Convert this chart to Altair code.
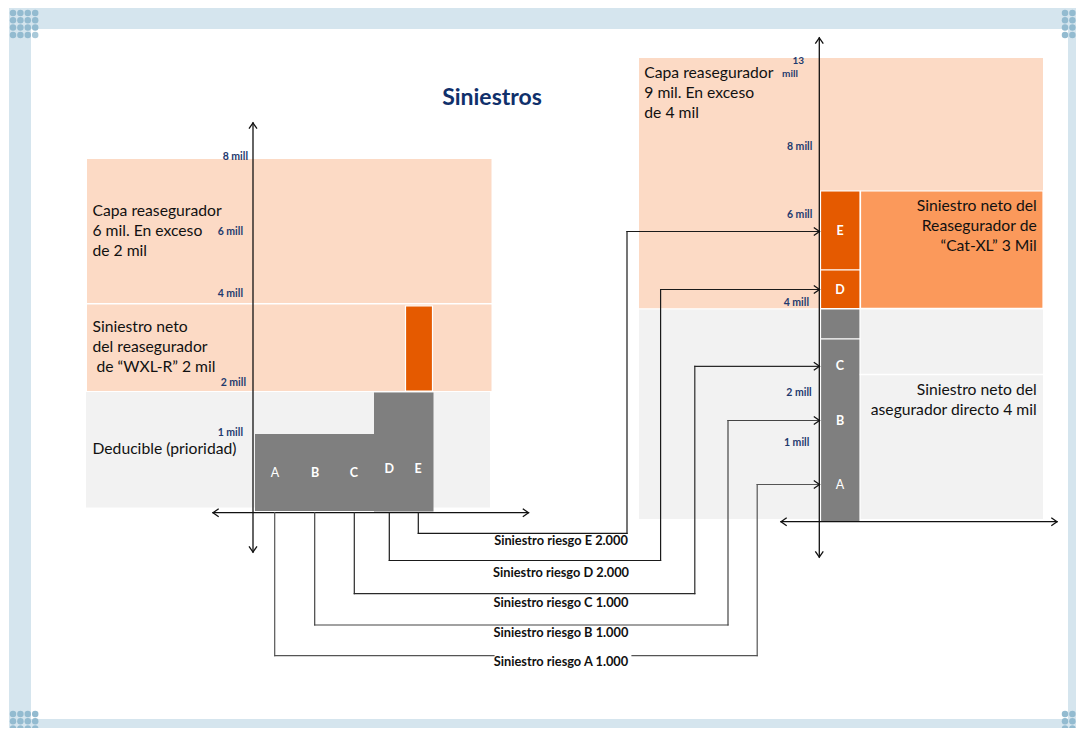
import altair as alt
import pandas as pd

# ---------------- text content / values ----------------
title = "Siniestros"
risk_letters = ["A", "B", "C", "D", "E"]
risk_losses = ["1.000", "1.000", "1.000", "2.000", "2.000"]
left_ticks = ["8 mill", "6 mill", "4 mill", "2 mill", "1 mill"]
right_ticks = ["8 mill", "6 mill", "4 mill", "2 mill", "1 mill"]
right_top_tick = ["13", "mill"]
left_layer_text = ["Capa reasegurador", "6 mil. En exceso", "de 2 mil"]
left_net_text = ["Siniestro neto", "del reasegurador", "de \u201cWXL-R\u201d 2 mil"]
left_ded_text = ["Deducible (prioridad)"]
right_layer_text = ["Capa reasegurador", "9 mil. En exceso", "de 4 mil"]
right_cat_text = ["Siniestro neto del", "Reasegurador de", "\u201cCat-XL\u201d 3 Mil"]
right_direct_text = ["Siniestro neto del", "asegurador directo 4 mil"]

# ---------------- styles ----------------
PEACH = "#fcdac5"
LGRAY = "#f2f2f2"
BGRAY = "#7f7f7f"
ORANGE = "#e55a00"
LORANGE = "#fb995b"
FRAME = "#d5e5ee"
DOT = "#93bbd0"
NAVY = "#1f3a6e"
TITLE = "#10306b"
FONT = "Lato"

# ---------------- diagram layout (page pixels) ----------------
bg_rects = [
    (9, 1084, 7, 29, FRAME), (9, 1084, 719, 736, FRAME),
    (9, 31, 7, 736, FRAME), (1068, 1084, 7, 736, FRAME),
    (87, 491.5, 159, 303, PEACH), (87, 491.5, 304.5, 391, PEACH),
    (86, 490, 392, 507.5, LGRAY),
    (639, 1043, 58, 308.3, PEACH), (639, 1043, 309.5, 519, LGRAY),
    (255, 374, 434, 511, BGRAY), (374, 433.5, 392.5, 511.5, BGRAY),
]
stroked_rects = [
    (860.5, 1043, 191, 308.3, LORANGE),
    (405.5, 432.5, 306, 391, ORANGE),
    (820.5, 860, 191, 270, ORANGE),
    (820.5, 860, 270, 308.5, ORANGE),
    (820.5, 860, 309, 339, BGRAY),
    (820.5, 860, 339, 522, BGRAY),
]

dots = []
for cx0, cy0 in [(13, 13), (1065, 13), (13, 714), (1065, 714)]:
    for i in range(4):
        for j in range(4):
            light = (i == 3 and j == 3 and cy0 < 100)
            dots.append((cx0 + 7.4 * i, cy0 + 7.3 * j, "#a9c9d9" if light else DOT))

AX = "#111111"
segments = [
    # white separator in right gray zone
    (860.5, 1043, 374.5, 374.5, "#ffffff", 1.5),
    # left axes
    (253, 253, 123, 552, AX, 1.3), (213, 528.5, 512.7, 512.7, AX, 1.3),
    # right axes
    (819.3, 819.3, 38, 557, AX, 1.3), (781, 1057, 521.7, 521.7, AX, 1.3),
]
connectors = {
    "E": [(418.3, 512.7), (418.3, 533.4), (627, 533.4), (627, 231.5), (819, 231.5)],
    "D": [(389.3, 512.7), (389.3, 560.5), (660.6, 560.5), (660.6, 289.5), (819, 289.5)],
    "C": [(354.3, 512.7), (354.3, 593.7), (694.8, 593.7), (694.8, 366.3), (819, 366.3)],
    "B": [(314.7, 512.7), (314.7, 625), (728, 625), (728, 420.5), (819, 420.5)],
    "A": [(274.7, 512.7), (274.7, 655.6), (757.2, 655.6), (757.2, 484.5), (819, 484.5)],
}
conn_color = {"A": "#555555", "B": "#444444", "C": "#2a2a2a", "D": "#1a1a1a", "E": "#1a1a1a"}
for k, pts in connectors.items():
    for (xa, ya), (xb, yb) in zip(pts[:-1], pts[1:]):
        if k == "A" and ya == yb and xa < 500 < xb:
            segments.append((xa, 494, ya, yb, conn_color[k], 1.2))
            segments.append((632, xb, ya, yb, conn_color[k], 1.2))
        else:
            segments.append((xa, xb, ya, yb, conn_color[k], 1.2))

R = "M-1,-0.7L0,0L-1,0.7"
L = "M1,-0.7L0,0L1,0.7"
U = "M-0.7,1L0,0L0.7,1"
D = "M-0.7,-1L0,0L0.7,-1"
arrows = [
    (253, 123, U), (253, 552, D), (213, 512.7, L), (528.5, 512.7, R),
    (819.3, 38, U), (819.3, 557, D), (781, 521.7, L), (1057, 521.7, R),
] + [(819.5, pts[-1][1], R) for pts in connectors.values()]

# text positions
title_pos = (492, 98)
left_tick_pos = [(248, 157), (243, 232), (243, 294), (246, 383), (243, 433)]
right_tick_pos = [(812.3, 146.7), (812.3, 215.3), (809, 303.3), (811.7, 393.3), (809.3, 442.7)]
right_top_pos = [(798.3, 60.7), (790, 73.7)]
left_letter_pos = [(275, 473), (315, 473), (354, 473), (389.3, 469), (418, 469)]
right_letter_pos = [(840, 485), (840, 421), (840, 366), (840, 290), (840, 231)]
risk_label_y = [662, 633, 603, 572.5, 540.5]

# ---------------- chart ----------------
XS = alt.Scale(domain=[8, 1076], zero=False, nice=False)
YS = alt.Scale(domain=[8, 728], zero=False, nice=False, reverse=True)


def enc_xy():
    return dict(x=alt.X("x:Q", scale=XS, axis=None), y=alt.Y("y:Q", scale=YS, axis=None))


def rect_layer(rows, **mark):
    df = pd.DataFrame(rows, columns=["x", "x2", "y", "y2", "fill"])
    return alt.Chart(df).mark_rect(**mark).encode(
        x2="x2:Q", y2="y2:Q", color=alt.Color("fill:N", scale=None), **enc_xy()
    )


def text_layer(rows, **mark):
    df = pd.DataFrame(rows, columns=["x", "y", "t"])
    base = dict(font=FONT, baseline="middle")
    base.update(mark)
    return alt.Chart(df).mark_text(**base).encode(text="t:N", **enc_xy())


seg_df = pd.DataFrame(segments, columns=["x", "x2", "y", "y2", "c", "w"])
rules = alt.Chart(seg_df).mark_rule(strokeCap="square").encode(
    x2="x2:Q", y2="y2:Q",
    color=alt.Color("c:N", scale=None),
    strokeWidth=alt.StrokeWidth("w:Q", scale=None),
    **enc_xy(),
)

arrow_df = pd.DataFrame(arrows, columns=["x", "y", "shape"])
heads = alt.Chart(arrow_df).mark_point(
    filled=False, size=130, strokeWidth=1.3, color="#111111", opacity=1
).encode(shape=alt.Shape("shape:N", scale=None), **enc_xy())

dot_df = pd.DataFrame(dots, columns=["x", "y", "c"])
dot_layer = alt.Chart(dot_df).mark_circle(size=42, opacity=1).encode(
    color=alt.Color("c:N", scale=None), **enc_xy()
)


def lines_at(x0, y0, lines, step=20):
    return [(x0, y0 + i * step, t) for i, t in enumerate(lines)]


normal_left = (
    lines_at(92.5, 211, left_layer_text)
    + lines_at(92.5, 327, left_net_text[:2])
    + [(96.5, 367, left_net_text[2])]
    + lines_at(92.5, 449, left_ded_text)
    + lines_at(644.3, 73.3, right_layer_text)
)
normal_right = lines_at(1036.7, 205.7, right_cat_text) + lines_at(1036.7, 390, right_direct_text)

ticks_rows = [(x, y, t) for (x, y), t in zip(left_tick_pos, left_ticks)] + [
    (x, y, t) for (x, y), t in zip(right_tick_pos, right_ticks)
]
top_tick_rows = [(x, y, t) for (x, y), t in zip(right_top_pos, right_top_tick)]

letters_bold = []
letters_norm = []
for (x, y), t in zip(left_letter_pos, risk_letters):
    (letters_norm if t == "A" else letters_bold).append((x, y, t))
for (x, y), t in zip(right_letter_pos, risk_letters):
    (letters_norm if t == "A" else letters_bold).append((x, y, t))

risk_rows = [
    (561, y, f"Siniestro riesgo {l} {v}")
    for y, l, v in zip(risk_label_y, risk_letters, risk_losses)
]

chart = alt.layer(
    rect_layer(bg_rects),
    dot_layer,
    rect_layer(stroked_rects, stroke="#ffffff", strokeWidth=1.2),
    rules,
    heads,
    text_layer([(title_pos[0], title_pos[1], title)], fontSize=23, fontWeight="bold", color=TITLE, align="center"),
    text_layer(normal_left, fontSize=15.7, color="#111111", align="left"),
    text_layer(normal_right, fontSize=15.7, color="#111111", align="right"),
    text_layer(ticks_rows, fontSize=10.5, fontWeight="bold", color=NAVY, align="right"),
    text_layer(top_tick_rows, fontSize=10, fontWeight="bold", color=NAVY, align="center"),
    text_layer(letters_bold, fontSize=12.5, fontWeight="bold", color="#ffffff", align="center"),
    text_layer(letters_norm, fontSize=12.5, color="#ffffff", align="center"),
    text_layer(risk_rows, fontSize=12.8, fontWeight="bold", color="#111111", align="center"),
).properties(
    width=1068, height=720, padding=0, autosize="none", background="#ffffff"
).configure_view(strokeWidth=0)

chart.save("out.html", embed_options={"renderer": "svg", "actions": False})
